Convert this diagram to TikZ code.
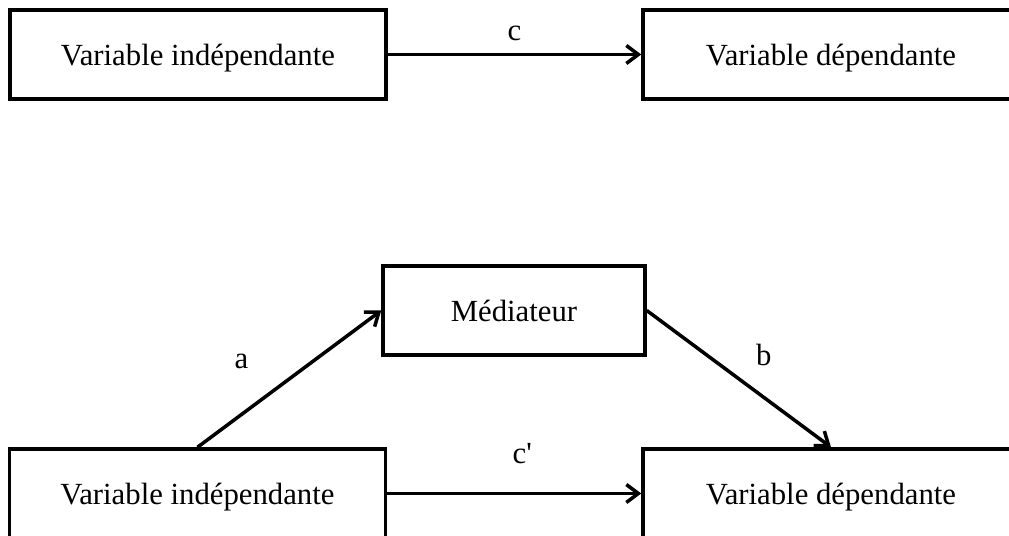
\documentclass[tikz,border=0pt]{standalone}
\usepackage{fontspec}
\setmainfont{Liberation Serif}[Ligatures=TeXOff]
\usetikzlibrary{arrows.meta}

\begin{document}
\begin{tikzpicture}[x=0.02cm,y=-0.02cm,
	box/.style={draw,line width=2pt,rectangle,minimum width=376*0.02cm,minimum height=89*0.02cm,
		font=\fontsize{17.5}{21}\selectfont,inner sep=0pt,text height=12pt,text depth=0pt},
	arr/.style={line width=2pt,-{Straight Barb[length=2.4mm,width=3.6mm,line width=2pt]}},
	lbl/.style={font=\fontsize{17.5}{21}\selectfont,inner sep=0pt}]
	% page size
	\useasboundingbox (0,0) rectangle (1009,536);
	% simple model
	\node[box] (vi1) at (198,54.5) {Variable indépendante};
	\node[box] (vd1) at (831,54.5) {Variable dépendante};
	\draw[arr] (vi1) -- (vd1) node[lbl,midway,above=7pt] {c};
	% mediation model
	\node[box,minimum width=262*0.02cm] (med) at (514,310.5) {Médiateur};
	\node[box] (vi2) at (197.5,493.5) {Variable indépendante};
	\node[box] (vd2) at (831,493.5) {Variable dépendante};
	\draw[arr] (vi2.north) -- (med.west) node[lbl,midway,xshift=-48*0.02cm,yshift=17*0.02cm] {a};
	\draw[arr] (med.east) -- (vd2.north) node[lbl,midway,xshift=25*0.02cm,yshift=24*0.02cm] {b};
	\draw[arr] (vi2) -- (vd2) node[lbl,midway,above=16pt,xshift=8*0.02cm] {c\textquotesingle};
\end{tikzpicture}
\end{document}
